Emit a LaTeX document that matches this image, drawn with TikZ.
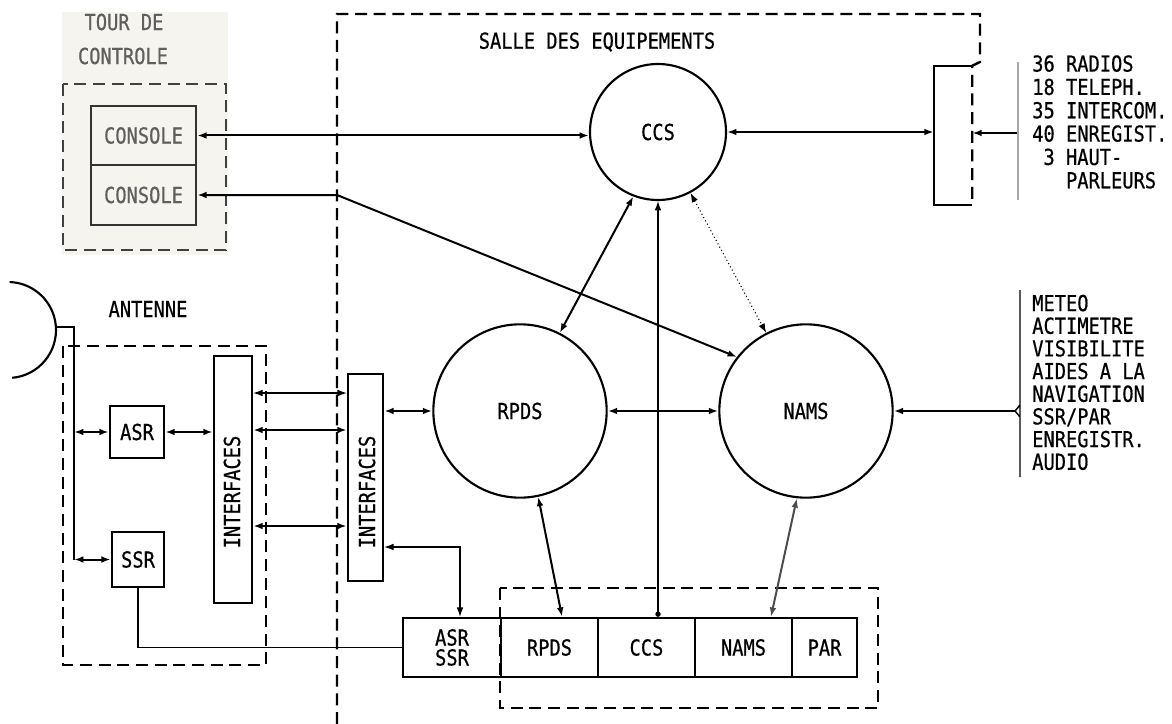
\documentclass[tikz,border=0pt]{standalone}
\usepackage{fontspec}
\setmainfont{DejaVu Sans Mono}[FakeStretch=0.85,FakeBold=0.6]
\usetikzlibrary{arrows.meta,calc}
\definecolor{tourbg}{RGB}{246,244,238}
\definecolor{greytxt}{RGB}{95,95,95}
\begin{document}
\begin{tikzpicture}[x=0.75pt,y=-0.75pt,
  txt/.style={font=\fontsize{16.5}{17.5}\selectfont},
  box/.style={draw,line width=1.8pt,inner sep=0pt,txt},
  circ/.style={draw,circle,line width=1.6pt,inner sep=0pt,txt},
  conn/.style={line width=1.5pt},
  thinl/.style={line width=0.8pt},
  tip/.style={-{Latex[length=7pt,width=5pt]}},
  both/.style={{Latex[length=7pt,width=5pt]}-{Latex[length=7pt,width=5pt]}},
  zone/.style={dash pattern=on 9pt off 5pt,line width=1.8pt},
]
\useasboundingbox (0,0) rectangle (1172,724);
\fill[white] (0,0) rectangle (1172,724);

% ---------- Tour de controle
\fill[tourbg] (62,12) rectangle (228,255);
\node[txt,text=greytxt] (tourt) at (124,22) {TOUR DE};
\node[txt,text=greytxt] (tourc) at (123,56) {CONTROLE};
\draw[zone,draw=black!75] (63,84) rectangle (226,250);
\node[box,draw=black!80,text=greytxt,minimum width=78.75pt,minimum height=44.25pt] (con1) at (143.5,135.5) {CONSOLE};
\node[box,draw=black!80,text=greytxt,minimum width=78.75pt,minimum height=45pt] (con2) at (143.5,195) {CONSOLE};

% ---------- Salle des equipements
\node[inner sep=0pt,minimum width=28.5pt,minimum height=104.25pt] (relay) at (953,135.5) {};
\draw[line width=1.8pt] (relay.north east) -- (relay.north west) -- (relay.south west) -- (relay.south east);
\draw[zone] (337,724) -- (337,14) -- (980,14) -- (980,62) -- (relay.north east) -- (relay.south east);
\node[txt] (salle) at (597,42) {SALLE DES EQUIPEMENTS};

\node[circ,minimum size=102pt] (ccs) at (658,132) {CCS};
\node[circ,minimum size=130pt] (rpds) at (520,411) {RPDS};
\node[circ,minimum size=130pt] (nams) at (806,411) {NAMS};

% ---------- Antenne
\draw[line width=1.6pt] (8,330) ++(85:48) arc[start angle=85,end angle=-88,radius=48];
\node[txt] (antt) at (148,309) {ANTENNE};
\draw[zone] (63,346) rectangle (266,665);
\node[box,minimum width=40.5pt,minimum height=39pt] (asr) at (137,432) {ASR};
\node[box,minimum width=39pt,minimum height=41.25pt] (ssr) at (138,559.5) {SSR};
\node[box,minimum width=28.5pt,minimum height=185.25pt] (if1) at (233,479.5) {};
\node[txt,rotate=90] (if1t) at (232,492) {INTERFACES};
\node[box,minimum width=26.25pt,minimum height=155.25pt] (if2) at (365.5,477.5) {};
\node[txt,rotate=90] (if2t) at (367,492) {INTERFACES};

% ---------- bottom row
\draw[zone] (500,588) rectangle (878,708);
\node[box,minimum width=73.5pt,minimum height=44.25pt,align=center,font=\fontsize{16.5}{15}\selectfont] (cellas) at (452,647.5) {ASR\\SSR};
\node[box,minimum width=72.75pt,minimum height=44.25pt] (cellrp) at (549.5,647.5) {RPDS};
\node[box,minimum width=72.75pt,minimum height=44.25pt] (cellcc) at (646.5,647.5) {CCS};
\node[box,minimum width=72.75pt,minimum height=44.25pt] (cellna) at (743.5,647.5) {NAMS};
\node[box,minimum width=48.75pt,minimum height=44.25pt] (cellpa) at (824.5,647.5) {PAR};

% ---------- right lists
\node[txt,anchor=north west,align=left,inner sep=0pt] (list1) at (1032,55)
  {36 RADIOS\\18 TELEPH.\\35 INTERCOM.\\40 ENREGIST.\\\phantom{0}3 HAUT-\\\phantom{000}PARLEURS};
\node[anchor=north west,align=left,inner sep=0pt,font=\fontsize{16.5}{17}\selectfont] (list2) at (1032,294.5)
  {METEO\\ACTIMETRE\\VISIBILITE\\AIDES A LA\\NAVIGATION\\SSR/PAR\\ENREGISTR.\\AUDIO};
\coordinate (br1) at (1017,133);
\coordinate (br1t) at (1018,62);
\coordinate (br1b) at (1018,200);
\draw[thinl,black!35] (br1t) -- (br1b);
\coordinate (br2) at (1015,411);
\coordinate (br2t) at (1020,290);
\coordinate (br2b) at (1020,477);
\draw[line width=1.1pt] (br2t) -- ([yshift=-4.5pt]br2t |- br2) -- (br2) -- ([yshift=4.5pt]br2t |- br2) -- (br2b);

% ---------- connectors
\draw[conn,both] (con1.east) -- (con1.east -| ccs.west);
\coordinate (c2b) at (337,195);
\draw[conn,both] (con2.east) -- (c2b) -- (nams.142);
\draw[conn,both] (ccs.east) -- (ccs.east -| relay.west);
\draw[conn,tip] (br1) -- (br1 -| relay.east);
\draw[conn,both] (ccs.249.6) -- (rpds.63);
\draw[thinl,dotted,both] (ccs.-62) -- (nams.117.6);
\draw[thinl,{Latex[length=7pt,width=5pt]}-{Circle[length=4pt]}] (ccs.south) -- (ccs.south |- cellcc.north);
\draw[conn,both] (rpds.east) -- (nams.west);
\draw[conn,both] (rpds.west -| if2.east) -- (rpds.west);
\draw[conn,both] (rpds.-78.6) -- ([xshift=9.4pt]cellrp.north);
\draw[conn,both,draw=black!70] (nams.-96) -- ([xshift=20.6pt]cellna.north);
\draw[conn,tip] (br2) -- (nams.east);

\coordinate (ant) at (56,327);
\coordinate (feed) at (74,327);
\draw[conn] (ant) -- (feed) -- (feed |- ssr.west);
\draw[conn,both] (feed |- asr.west) -- (asr.west);
\draw[conn,both] (feed |- ssr.west) -- (ssr.west);
\draw[conn,both] (asr.east) -- (asr.east -| if1.west);

\coordinate (h1) at (300,393);
\coordinate (h2) at (300,430);
\coordinate (h3) at (300,526);
\coordinate (h4) at (420,547);
\draw[thinl,both] (if1.east |- h1) -- (if2.west |- h1);
\draw[conn,both] (if1.east |- h2) -- (if2.west |- h2);
\draw[conn,both] (if1.east |- h3) -- (if2.west |- h3);
\draw[thinl,both] (if2.east |- h4) -| ([xshift=6pt]cellas.north);
\draw[thinl] (ssr.south) |- (cellas.west);
\end{tikzpicture}
\end{document}
